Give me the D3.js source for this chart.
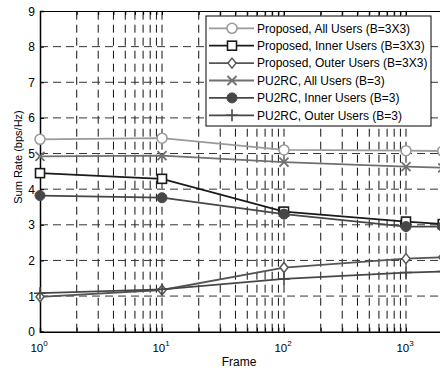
<!DOCTYPE html>
<html>
<head>
<meta charset="utf-8">
<script src="https://cdn.jsdelivr.net/npm/d3@7"></script>
<style>
  body { margin: 0; background: #fff; }
  svg { display: block; font-family: "Liberation Sans", Arial, sans-serif; }
</style>
</head>
<body>
<div id="chart"></div>
<script>
// data
const frames = [1, 10, 100, 1000, 2000];
const proposedAll = [5.40, 5.43, 5.10, 5.08, 5.07];
const proposedInner = [4.45, 4.29, 3.37, 3.09, 3.02];
const proposedOuter = [0.98, 1.17, 1.80, 2.05, 2.09];
const pu2rcAll = [4.92, 4.94, 4.76, 4.63, 4.60];
const pu2rcInner = [3.82, 3.76, 3.30, 2.95, 2.95];
const pu2rcOuter = [1.08, 1.19, 1.48, 1.66, 1.69];
const yTicks = [0, 1, 2, 3, 4, 5, 6, 7, 8, 9];
const xMajor = [1, 10, 100, 1000];

const series = [
  { name: 'Proposed, All Users (B=3X3)', values: proposedAll, color: '#9a9a9a', marker: 'circle' },
  { name: 'Proposed, Inner Users (B=3X3)', values: proposedInner, color: '#1a1a1a', marker: 'square' },
  { name: 'Proposed, Outer Users (B=3X3)', values: proposedOuter, color: '#555555', marker: 'diamond' },
  { name: 'PU2RC, All Users (B=3)', values: pu2rcAll, color: '#707070', marker: 'x' },
  { name: 'PU2RC, Inner Users (B=3)', values: pu2rcInner, color: '#474747', marker: 'dot' },
  { name: 'PU2RC, Outer Users (B=3)', values: pu2rcOuter, color: '#474747', marker: 'plus' }
];

const width = 440, height = 372;
const margin = { left: 40, top: 11, bottom: 331.7 };
const plotRight = margin.left + 122 * Math.log10(2000);

const x = d3.scaleLog().domain([1, 2000]).range([margin.left, plotRight]);
const y = d3.scaleLinear().domain([0, 9]).range([margin.bottom, margin.top]);

const svg = d3.select('#chart').append('svg')
  .attr('width', width)
  .attr('height', height);

// minor + major vertical grid positions
const xGrid = [];
for (let d = 1; d <= 1000; d *= 10) {
  for (let k = 1; k <= 9; k++) {
    const v = d * k;
    if (v > 1 && v < 2000) xGrid.push(v);
  }
}

const grid = svg.append('g');
grid.selectAll('.vg').data(xGrid).enter().append('line')
  .attr('x1', (d) => x(d)).attr('x2', (d) => x(d))
  .attr('y1', margin.bottom).attr('y2', margin.top)
  .attr('stroke', '#111').attr('stroke-width', 1)
  .attr('stroke-dasharray', '8,5');
grid.selectAll('.hg').data(yTicks.filter((d) => d > 0 && d < 9)).enter().append('line')
  .attr('x1', margin.left).attr('x2', plotRight)
  .attr('y1', (d) => y(d)).attr('y2', (d) => y(d))
  .attr('stroke', '#333').attr('stroke-width', 1)
  .attr('stroke-dasharray', '8,5');

// axes frame
svg.append('g')
  .attr('transform', `translate(0, ${margin.bottom})`)
  .call(d3.axisBottom(x).tickValues(xGrid.concat([1])).tickSize(-4).tickFormat(''))
  .call((g) => g.select('.domain').attr('stroke', '#000').attr('stroke-width', 1.5))
  .call((g) => g.selectAll('.tick line').attr('stroke', '#000'));
svg.append('g')
  .attr('transform', `translate(0, ${margin.top})`)
  .call(d3.axisTop(x).tickValues(xGrid).tickSize(-4).tickFormat(''))
  .call((g) => g.select('.domain').attr('stroke', '#000'))
  .call((g) => g.selectAll('.tick line').attr('stroke', '#000'));
svg.append('g')
  .attr('transform', `translate(${margin.left}, 0)`)
  .call(d3.axisLeft(y).tickValues(yTicks).tickSize(-4).tickFormat(''))
  .call((g) => g.select('.domain').attr('stroke', '#000').attr('stroke-width', 1.5))
  .call((g) => g.selectAll('.tick line').attr('stroke', '#000'));

// y tick labels
svg.selectAll('.ylab').data(yTicks).enter().append('text')
  .attr('x', margin.left - 5)
  .attr('y', (d) => y(d) + 4.5)
  .attr('text-anchor', 'end')
  .attr('font-size', 12)
  .text((d) => d);

// x tick labels 10^n
const xl = svg.selectAll('.xlab').data(xMajor).enter().append('text')
  .attr('x', (d) => x(d) - 1)
  .attr('y', 352)
  .attr('text-anchor', 'middle')
  .attr('font-size', 11.5);
xl.append('tspan').text('10');
xl.append('tspan')
  .attr('dy', -6)
  .attr('font-size', 8)
  .text((d) => Math.round(Math.log10(d)));

svg.append('text')
  .attr('x', 239).attr('y', 366)
  .attr('text-anchor', 'middle')
  .attr('font-size', 12)
  .text('Frame');
svg.append('text')
  .attr('transform', 'translate(22, 157) rotate(-90)')
  .attr('text-anchor', 'middle')
  .attr('font-size', 11)
  .text('Sum Rate (bps/Hz)');

function drawMarker(g, type, color) {
  if (type === 'circle') {
    g.append('circle').attr('r', 5).attr('fill', '#fff').attr('stroke', color).attr('stroke-width', 1.6);
  } else if (type === 'square') {
    g.append('rect').attr('x', -4.5).attr('y', -4.5).attr('width', 9).attr('height', 9)
      .attr('fill', '#fff').attr('stroke', color).attr('stroke-width', 1.6);
  } else if (type === 'diamond') {
    g.append('path').attr('d', 'M0,-5L4,0L0,5L-4,0Z')
      .attr('fill', '#fff').attr('stroke', color).attr('stroke-width', 1.5);
  } else if (type === 'x') {
    g.append('path').attr('d', 'M-4.5,-4.5L4.5,4.5M-4.5,4.5L4.5,-4.5')
      .attr('stroke', color).attr('stroke-width', 1.8);
  } else if (type === 'dot') {
    g.append('circle').attr('r', 5).attr('fill', color).attr('stroke', color);
  } else if (type === 'plus') {
    g.append('path').attr('d', 'M-6,0L6,0M0,-6L0,6')
      .attr('stroke', color).attr('stroke-width', 1.6);
  }
}

const line = d3.line()
  .x((d, i) => x(frames[i]))
  .y((d) => y(d));

series.forEach((s) => {
  svg.append('path')
    .datum(s.values)
    .attr('fill', 'none')
    .attr('stroke', s.color)
    .attr('stroke-width', 1.8)
    .attr('d', line);
  s.values.forEach((v, i) => {
    const g = svg.append('g').attr('transform', `translate(${x(frames[i])}, ${y(v)})`);
    drawMarker(g, s.marker, s.color);
  });
});

// legend
const lg = svg.append('g');
lg.append('rect')
  .attr('x', 206).attr('y', 16)
  .attr('width', 225).attr('height', 110)
  .attr('fill', '#fff').attr('stroke', '#000').attr('stroke-width', 1);
series.forEach((s, i) => {
  const ry = 28.3 + i * 17.4;
  lg.append('line')
    .attr('x1', 209).attr('x2', 254)
    .attr('y1', ry).attr('y2', ry)
    .attr('stroke', s.color).attr('stroke-width', 1.8);
  const mg = lg.append('g').attr('transform', `translate(232, ${ry})`);
  drawMarker(mg, s.marker, s.color);
  lg.append('text')
    .attr('x', 257).attr('y', ry + 4.3)
    .attr('font-size', 12)
    .text(s.name);
});
</script>
</body>
</html>
